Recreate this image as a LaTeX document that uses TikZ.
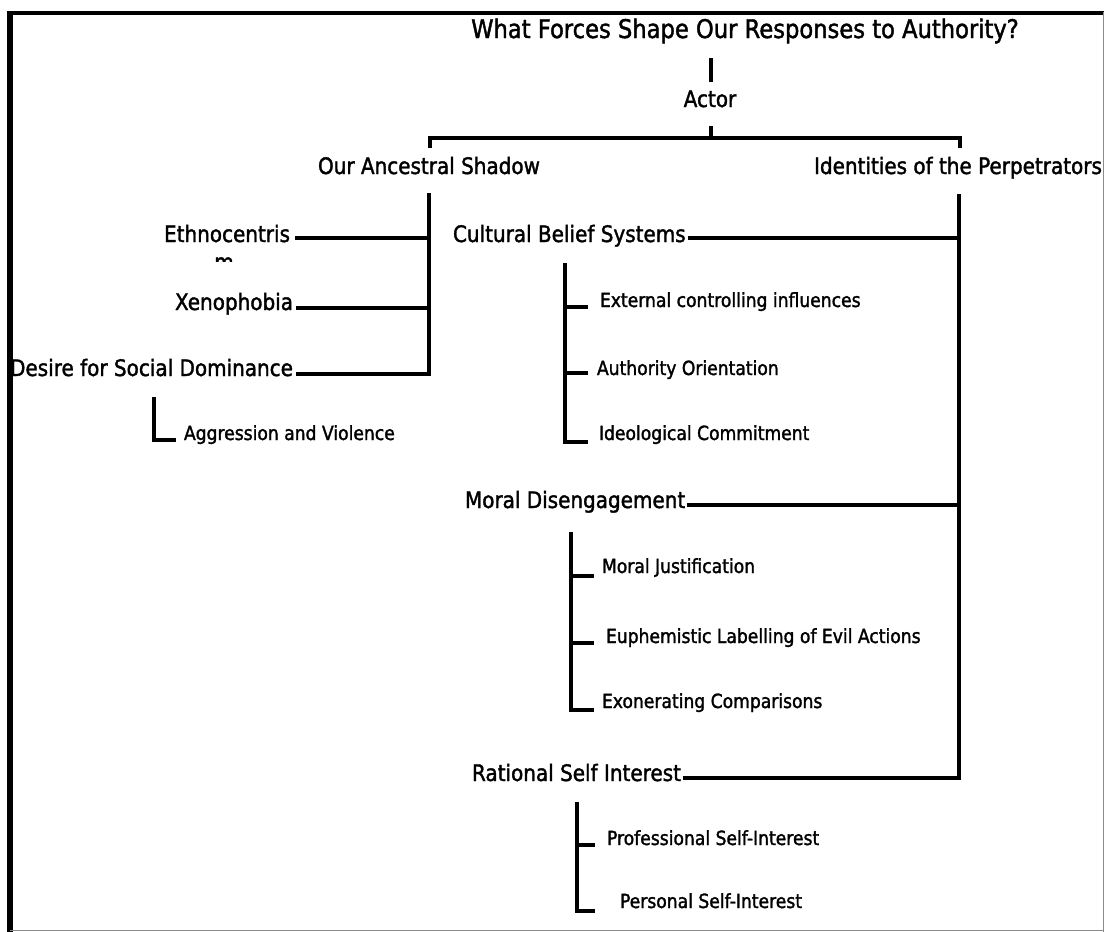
\documentclass[tikz,border=0pt]{standalone}
\usepackage{fontspec}
\setmainfont{DejaVu Sans}[FakeStretch=0.88,FakeBold=1.6]
\begin{document}
\begin{tikzpicture}[x=1pt,y=-1pt,
  every node/.style={inner sep=0pt,outer sep=0pt},
  ttl/.style={font=\fontsize{25.7}{30}\selectfont},
  mainlbl/.style={font=\fontsize{22.7}{27}\selectfont},
  smalllbl/.style={font=\fontsize{19.5}{23}\selectfont},
  conn/.style={line width=4.5pt,line join=miter,line cap=butt},
  framethick/.style={line width=6pt},
  framethin/.style={line width=1pt,black!45}]
\useasboundingbox (0,0) rectangle (1104,932);
% frame
\draw[framethick] (10,932) -- (10,12.5);
\draw[line width=4pt] (7,12.5) -- (1104,12.5);
\draw[framethin] (10,930.5) -- (1104,930.5);
\draw[framethin] (1103,12) -- (1103,932);

% title and root
\node[ttl,anchor=base] (title) at (745,38) {What Forces Shape Our Responses to Authority?};
\node[mainlbl,anchor=base] (actor) at (710,107) {Actor};
\coordinate (tA) at (711,58);
\coordinate (tB) at (711,82);
\draw[conn] (tA) -- (tB);

% top bracket
\coordinate (brL) at (430,148);
\coordinate (brLc) at (430,138);
\coordinate (brRc) at (960,138);
\coordinate (brR) at (960,148);
\coordinate (brM) at (711,126);
\coordinate (brMb) at (711,138);
\draw[conn] (brL) -- (brLc) -- (brRc) -- (brR);
\draw[conn] (brM) -- (brMb);

\node[mainlbl,anchor=base] (anc) at (429,174) {Our Ancestral Shadow};
\node[mainlbl,anchor=base] (ident) at (958,174) {Identities of the Perpetrators};

% left branch
\coordinate (lvT) at (429,193);
\coordinate (lvB) at (429,374);
\node[mainlbl,anchor=base east] (eth) at (290,242) {Ethnocentris};
\begin{scope}
  \clip (150,250) rectangle (300,261);
  \node[mainlbl,anchor=base] (ethm) at (224,270) {m};
\end{scope}
\node[mainlbl,anchor=base east] (xen) at (293,310) {Xenophobia};
\node[mainlbl,anchor=base east] (des) at (293,376) {Desire for Social Dominance};
\coordinate (ethL) at (295,238);
\coordinate (ethR) at (429,238);
\coordinate (xenL) at (296,308);
\coordinate (xenR) at (429,308);
\coordinate (desL) at (296,374);
\draw[conn] (lvT) -- (lvB) -- (desL);
\draw[conn] (ethL) -- (ethR);
\draw[conn] (xenL) -- (xenR);

\coordinate (agT) at (154,397);
\coordinate (agC) at (154,440);
\coordinate (agE) at (176,440);
\draw[conn] (agT) -- (agC) -- (agE);
\node[smalllbl,anchor=base west] (agg) at (184,440) {Aggression and Violence};

% right branch
\coordinate (rvT) at (959,194);
\coordinate (rvB) at (959,778);
\node[mainlbl,anchor=base west] (cult) at (453,242) {Cultural Belief Systems};
\node[mainlbl,anchor=base west] (moral) at (465,508) {Moral Disengagement};
\node[mainlbl,anchor=base west] (rat) at (472,781) {Rational Self Interest};
\coordinate (cultR) at (959,238);
\coordinate (moralR) at (959,505);
\draw[conn] (cult.base east |- cultR) ++(2,0) coordinate (cultL) -- (cultR);
\draw[conn] (moral.base east |- moralR) ++(2,0) coordinate (moralL) -- (moralR);
\draw[conn] (rvT) -- (rvB) -- ([xshift=2pt]rat.base east |- rvB) coordinate (ratL);

% sub bracket 1
\coordinate (s1T) at (565,263);
\coordinate (s1B) at (565,442);
\coordinate (s1a) at (565,307);
\coordinate (s1b) at (565,373);
\node[smalllbl,anchor=base west] (ext) at (600,307) {External controlling influences};
\node[smalllbl,anchor=base west] (auth) at (597,375) {Authority Orientation};
\node[smalllbl,anchor=base west] (ideo) at (599,440) {Ideological Commitment};
\draw[conn] (s1T) -- (s1B) -- ++(23,0) coordinate (s1Be);
\draw[conn] (s1a) -- ++(23,0) coordinate (s1ae);
\draw[conn] (s1b) -- ++(23,0) coordinate (s1be);

% sub bracket 2
\coordinate (s2T) at (571,532);
\coordinate (s2B) at (571,710);
\coordinate (s2a) at (571,576);
\coordinate (s2b) at (571,643);
\node[smalllbl,anchor=base west] (mj) at (602,573) {Moral Justification};
\node[smalllbl,anchor=base west] (euph) at (606,643) {Euphemistic Labelling of Evil Actions};
\node[smalllbl,anchor=base west] (exon) at (602,708) {Exonerating Comparisons};
\draw[conn] (s2T) -- (s2B) -- ++(23,0) coordinate (s2Be);
\draw[conn] (s2a) -- ++(23,0) coordinate (s2ae);
\draw[conn] (s2b) -- ++(23,0) coordinate (s2be);

% sub bracket 3
\coordinate (s3T) at (577,802);
\coordinate (s3B) at (577,911);
\coordinate (s3a) at (577,845);
\node[smalllbl,anchor=base west] (prof) at (607,845) {Professional Self-Interest};
\node[smalllbl,anchor=base west] (pers) at (620,908) {Personal Self-Interest};
\draw[conn] (s3T) -- (s3B) -- ++(18,0) coordinate (s3Be);
\draw[conn] (s3a) -- ++(18,0) coordinate (s3ae);
\end{tikzpicture}
\end{document}
